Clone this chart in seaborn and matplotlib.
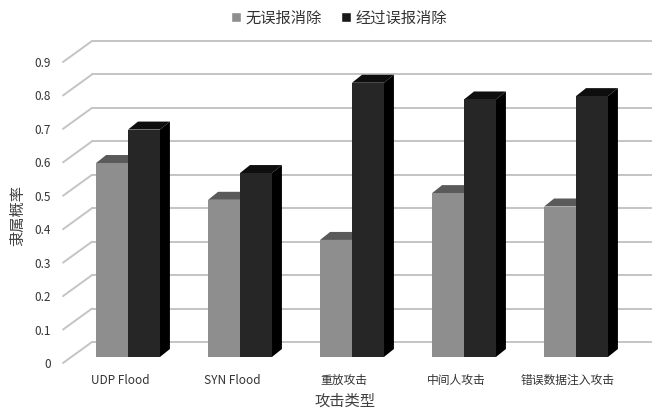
import numpy as np
import pandas as pd
import matplotlib
matplotlib.use("Agg")
import matplotlib.pyplot as plt
import seaborn as sns
from matplotlib.patches import Polygon, Patch
from matplotlib.lines import Line2D
from matplotlib.transforms import ScaledTranslation, IdentityTransform

# données
categories = ["UDP Flood", "SYN Flood", "重放攻击", "中间人攻击", "错误数据注入攻击"]
series_names = ["无误报消除", "经过误报消除"]
no_elim = [0.58, 0.47, 0.35, 0.49, 0.45]
with_elim = [0.68, 0.55, 0.82, 0.77, 0.78]
ytick_values = [0, 0.1, 0.2, 0.3, 0.4, 0.5, 0.6, 0.7, 0.8, 0.9]
ytick_labels = ["0", "0.1", "0.2", "0.3", "0.4", "0.5", "0.6", "0.7", "0.8", "0.9"]

df = pd.DataFrame({
    "攻击类型": categories * 2,
    "隶属概率": no_elim + with_elim,
    "方法": [series_names[0]] * len(categories) + [series_names[1]] * len(categories),
})

sns.set_style("white")
plt.rcParams["font.family"] = ["Noto Sans CJK SC", "DejaVu Sans"]

W, H = 652, 415
fig = plt.figure(figsize=(W / 100, H / 100), dpi=100)
ax = fig.add_axes([72 / W, 58 / H, 560 / W, 301 / H])

front_colors = ["#8e8e8e", "#262626"]
top_colors = ["#5a5a5a", "#0e0e0e"]
side_colors = ["#6a6a6a", "#000000"]

sns.barplot(data=df, x="攻击类型", y="隶属概率", hue="方法", palette=front_colors,
            width=0.57, saturation=1, legend=False, linewidth=0, ax=ax, zorder=3)
ax.set_xlim(-0.5, 4.5)
ax.set_ylim(0, 0.9)
sns.despine(ax=ax, left=True, bottom=True)

# effet 3D : faces du dessus et de côté
dx, dy = 10, 8
ident = IdentityTransform()
for p in ax.patches:
    fc = p.get_facecolor()
    k = 0 if fc[0] > 0.3 else 1
    x0, y0 = ax.transData.transform((p.get_x(), 0))
    x1, y1 = ax.transData.transform((p.get_x() + p.get_width(), p.get_height()))
    top = Polygon([(x0, y1), (x1, y1), (x1 + dx, y1 + dy), (x0 + dx, y1 + dy)],
                  closed=True, facecolor=top_colors[k], edgecolor="none",
                  transform=ident, zorder=2.5, clip_on=False)
    side = Polygon([(x1, y0), (x1 + dx, y0 + dy), (x1 + dx, y1 + dy), (x1, y1)],
                   closed=True, facecolor=side_colors[k], edgecolor="none",
                   transform=ident, zorder=2.5, clip_on=False)
    ax.add_artist(top)
    ax.add_artist(side)

# mur du fond et diagonales
grid_c = "#c4c4c4"
left_px = ax.transData.transform((-0.5, 0))[0]
for v in ytick_values:
    yb = ax.transData.transform((0, v))[1]
    ax.add_artist(Line2D([left_px + 20, W], [yb + 15, yb + 15], color=grid_c, lw=1.4,
                         transform=ident, zorder=1, clip_on=False))
    ax.add_artist(Line2D([left_px - 9, left_px + 20], [yb - 6, yb + 15], color=grid_c, lw=1.4,
                         transform=ident, zorder=1, clip_on=False))

# graduations
ax.set_yticks(ytick_values, ytick_labels)
ax.tick_params(axis="both", length=0, labelsize=8.5, labelcolor="#333333")
ax.tick_params(axis="y", pad=15)
ax.tick_params(axis="x", pad=12)
for lab in ax.get_yticklabels():
    lab.set_transform(lab.get_transform() + ScaledTranslation(0, -6 / 100, fig.dpi_scale_trans))
for lab in ax.get_xticklabels():
    lab.set_transform(lab.get_transform() + ScaledTranslation(-8 / 100, 0, fig.dpi_scale_trans))

ax.set_xlabel("攻击类型", fontsize=11, color="#404040", va="center")
ax.xaxis.set_label_coords((345 - 72) / 560, (357 - 401) / 301)
ax.set_ylabel("隶属概率", fontsize=11, color="#404040", va="center")
ax.yaxis.set_label_coords((18 - 72) / 560, (357 - 215) / 301)

handles = [Patch(facecolor=front_colors[0], label=series_names[0]),
           Patch(facecolor="#1a1a1a", label=series_names[1])]
fig.legend(handles=handles, loc="center", bbox_to_anchor=(0.52, 1 - 18 / H), ncol=2,
           frameon=False, fontsize=11, handlelength=0.6, handleheight=0.6,
           handletextpad=0.3, columnspacing=1.3, labelcolor="#333333")

plt.savefig("out.png", dpi=100)
